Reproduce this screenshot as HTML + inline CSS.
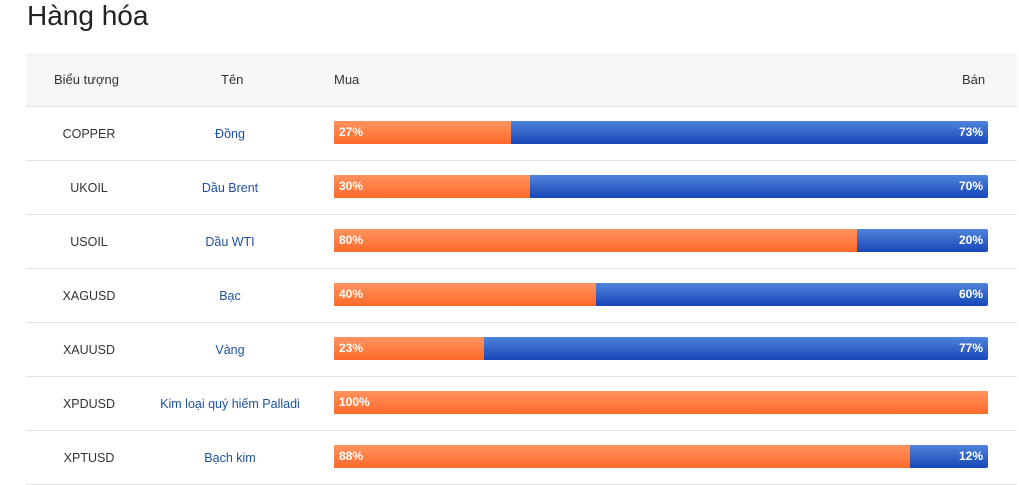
<!DOCTYPE html>
<html><head><meta charset="utf-8"><style>
body{margin:0;width:1019px;height:475px;overflow:hidden;background:#fff;font-family:"Liberation Sans",Arial,sans-serif;position:relative}
h1{position:absolute;left:27px;top:0px;margin:0;font-weight:normal;font-size:28px;color:#222}
.hdr{position:absolute;left:26px;top:53px;width:991px;height:53px;background:#f5f6f8;border-bottom:1px solid #e3e3e3}
.t{position:absolute;font-size:13px;color:#333}
.row{position:absolute;left:26px;width:991px;height:53px;border-bottom:1px solid #e3e3e3}
.sym{position:absolute;left:0;width:126px;text-align:center;top:20px;font-size:12.5px;color:#333}
.nm{position:absolute;left:126px;width:156px;text-align:center;top:20px;font-size:12.5px;color:#1f4f9f}
.bar{position:absolute;left:308px;top:14px;width:654px;height:23px;background:linear-gradient(#4f84da,#1646b8);border-radius:0 2px 2px 0}
.or{position:absolute;left:0;top:0;height:23px;background:linear-gradient(#ff9360,#ff6a28)}
.b1,.b2{position:absolute;top:4px;font-size:12px;font-weight:bold;color:#fff}
.b1{left:5px}.b2{right:5px}
</style></head><body>
<h1>Hàng hóa</h1>
<div class="hdr"></div>
<div class="t" style="left:54px;top:72px">Biểu tượng</div>
<div class="t" style="left:221px;top:72px">Tên</div>
<div class="t" style="left:334px;top:72px">Mua</div>
<div class="t" style="left:962px;top:72px">Bán</div>

<div class="row" style="top:107px"><div class="sym">COPPER</div><div class="nm">Đồng</div><div class="bar"><div class="or" style="width:27%"></div><span class="b1">27%</span><span class="b2">73%</span></div></div>
<div class="row" style="top:161px"><div class="sym">UKOIL</div><div class="nm">Dầu Brent</div><div class="bar"><div class="or" style="width:30%"></div><span class="b1">30%</span><span class="b2">70%</span></div></div>
<div class="row" style="top:215px"><div class="sym">USOIL</div><div class="nm">Dầu WTI</div><div class="bar"><div class="or" style="width:80%"></div><span class="b1">80%</span><span class="b2">20%</span></div></div>
<div class="row" style="top:269px"><div class="sym">XAGUSD</div><div class="nm">Bạc</div><div class="bar"><div class="or" style="width:40%"></div><span class="b1">40%</span><span class="b2">60%</span></div></div>
<div class="row" style="top:323px"><div class="sym">XAUUSD</div><div class="nm">Vàng</div><div class="bar"><div class="or" style="width:23%"></div><span class="b1">23%</span><span class="b2">77%</span></div></div>
<div class="row" style="top:377px"><div class="sym">XPDUSD</div><div class="nm">Kim loại quý hiếm Palladi</div><div class="bar"><div class="or" style="width:100%"></div><span class="b1">100%</span></div></div>
<div class="row" style="top:431px"><div class="sym">XPTUSD</div><div class="nm">Bạch kim</div><div class="bar"><div class="or" style="width:88%"></div><span class="b1">88%</span><span class="b2">12%</span></div></div>
</body></html>
